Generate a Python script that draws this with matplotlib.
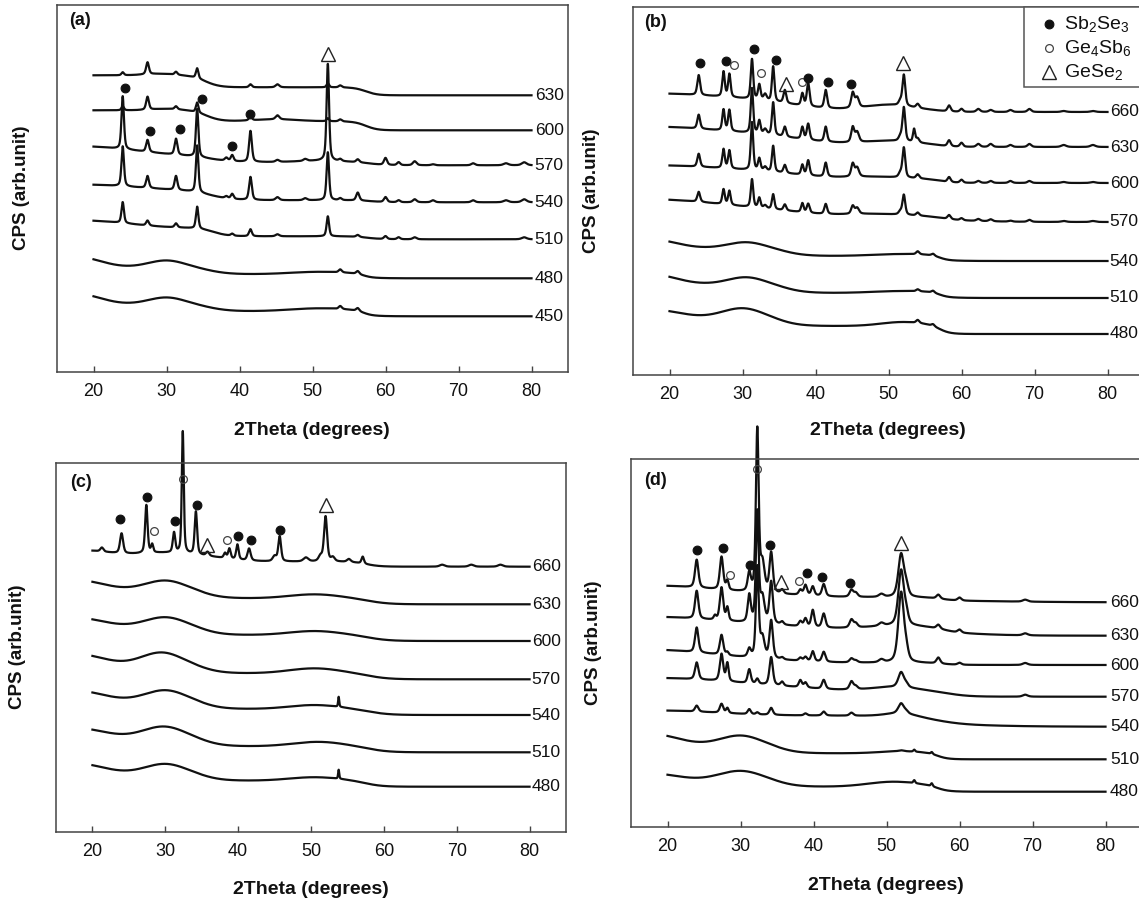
import numpy as np
import matplotlib
matplotlib.use("Agg")
import matplotlib.pyplot as plt
from matplotlib.patches import Rectangle

plt.rcParams['font.family'] = ['Liberation Sans', 'DejaVu Sans']
plt.rcParams['mathtext.default'] = 'regular'

W, H = 1139, 902

# ---------------- (a) ----------------
temps_a = [630, 600, 570, 540, 510, 480, 450]
level_a = [277, 242, 207, 170, 133, 94, 56]
steps_a = [[(57.3, 8, 0.8), (35.3, 12, 1.0)],
           [(57.3, 9, 0.8), (35.5, 11, 1.0)],
           [(58, 3, 1.0), (36, 5, 1.5), (26, 13, 4)],
           [(58, 2, 1.0), (36, 9, 1.5), (26, 8, 4)],
           [(57.5, 3, 1.0), (36.5, 8, 1.0), (25, 9, 3)],
           [(57, 4, 0.6), (36, 7, 1.5)],
           [(57, 5, 0.6), (36, 7, 1.5)]]
humps_a = [[(29, 1.5, 2)],
           [(30, 1.5, 2), (45, 2, 3)],
           [(51, 1.5, 3)],
           [],
           [],
           [(30, 7, 2.5), (18, 10, 3), (51, 2.5, 4)],
           [(30, 7, 2.5), (18, 10, 3), (51, 3, 4)]]
pos_a = [24.0, 27.4, 31.3, 34.2, 38.2, 39.0, 41.5, 45.2, 49.0, 52.1,
         53.8, 56.2, 60.0, 61.8, 64.0, 66.5, 72.0, 76.5, 79.0]
fwhm_a = [0.40, 0.45, 0.45, 0.40, 0.5, 0.45, 0.45, 0.6, 0.6, 0.40,
          0.5, 0.5, 0.5, 0.5, 0.6, 0.6, 0.6, 0.8, 0.8]
peaks_a = [[3, 12, 3, 10, 0, 0, 3, 3, 0, 4, 2, 0, 0, 0, 0, 0, 0, 0, 0],
           [4, 13, 3, 10, 0, 0, 4, 4, 0, 3, 2, 0, 0, 0, 0, 0, 0, 0, 0],
           [53, 12, 16, 48, 3, 6, 31, 2, 2, 97, 2, 3, 7, 3, 4, 1, 2, 2, 3],
           [40, 12, 14, 47, 2, 5, 23, 3, 2, 48, 2, 8, 5, 2, 3, 2, 2, 2, 3],
           [21, 5, 4, 22, 0, 2, 7, 2, 0, 20, 0, 2, 3, 2, 2, 0, 0, 0, 2],
           [0, 0, 0, 0, 0, 0, 0, 0, 0, 0, 3, 3, 0, 0, 0, 0, 0, 0, 0],
           [0, 0, 0, 0, 0, 0, 0, 0, 0, 0, 3, 3, 0, 0, 0, 0, 0, 0, 0]]
marks_a = [(24.25, 284, 'o'), (34.8, 273, 'o'), (41.5, 258, 'o'),
           (27.8, 241, 'o'), (31.8, 243, 'o'), (39.0, 226, 'o'),
           (52.1, 318, 't')]

# ---------------- (b) ----------------
temps_b = [660, 630, 600, 570, 540, 510, 480]
level_b = [263, 228, 192, 153, 114, 77, 41]
steps_b = [[(57, 2, 1), (37, 8, 2.5), (28, 10, 5)],
           [(57, 3, 1), (38, 7, 2.5), (28, 12, 5)],
           [(57, 4, 1), (38, 6, 2.5), (28, 9, 5)],
           [(57.5, 4, 1.2), (38, 6, 2.5), (27, 12, 4), (62, 2, 3)],
           [(57, 5, 0.6), (36, 8, 1.5)],
           [(57, 5, 0.6), (36, 9, 1.5)],
           [(57, 8, 0.7), (35.5, 8, 1.5)]]
humps_b = [[(50, 5, 3)],
           [(50, 3, 3)],
           [(48, 2, 4)],
           [(48, 2, 4)],
           [(30.5, 6, 2.5), (18, 8, 3), (52, 2, 4)],
           [(30.5, 7, 2.5), (18, 9, 3), (52, 2, 4)],
           [(30, 10, 2.8), (18, 8, 3.5), (52, 4, 3)]]
pos_b = [24.0, 27.4, 28.2, 31.3, 32.3, 33.1, 34.2, 35.8, 38.2, 39.0,
         41.4, 45.1, 45.7, 51.6, 52.1, 53.5, 54.0, 56.1, 58.3, 60.0,
         62.3, 64.0, 66.7, 69.3, 74.0, 78.0]
fwhm_b = [0.45, 0.4, 0.4, 0.4, 0.4, 0.5, 0.4, 0.45, 0.4, 0.45,
          0.45, 0.5, 0.6, 0.5, 0.45, 0.35, 0.5, 0.5, 0.5, 0.5,
          0.6, 0.6, 0.6, 0.6, 0.8, 0.8]
peaks_b = [[20, 25, 23, 40, 15, 6, 35, 13, 12, 23, 18, 15, 10, 4, 31, 0, 4, 0, 6, 3, 3, 2, 2, 3, 1, 1],
           [14, 21, 21, 45, 13, 5, 33, 10, 12, 16, 15, 15, 10, 4, 34, 13, 4, 0, 6, 4, 3, 3, 2, 3, 2, 2],
           [13, 19, 18, 48, 12, 4, 26, 8, 10, 15, 14, 13, 9, 4, 30, 0, 4, 0, 5, 3, 2, 2, 2, 2, 1, 1],
           [10, 15, 14, 28, 10, 3, 15, 6, 9, 9, 10, 8, 6, 3, 20, 0, 3, 0, 4, 2, 2, 2, 1, 2, 1, 1],
           [0, 0, 0, 0, 0, 0, 0, 0, 0, 0, 0, 0, 0, 0, 0, 0, 3, 2, 0, 0, 0, 0, 0, 0, 0, 0],
           [0, 0, 0, 0, 0, 0, 0, 0, 0, 0, 0, 0, 0, 0, 0, 0, 2, 2, 0, 0, 0, 0, 0, 0, 0, 0],
           [0, 0, 0, 0, 0, 0, 0, 0, 0, 0, 0, 0, 0, 0, 0, 0, 3, 2, 0, 0, 0, 0, 0, 0, 0, 0]]
marks_b = [(24.2, 312, 'o'), (27.8, 314, 'o'), (28.9, 310, 'c'),
           (31.6, 326, 'o'), (32.6, 302, 'c'), (34.6, 315, 'o'),
           (36.0, 291, 't'), (38.2, 293, 'c'), (39.0, 297, 'o'),
           (41.7, 293, 'o'), (44.9, 291, 'o'), (52.05, 312, 't')]

# ---------------- (c) ----------------
temps_c = [660, 630, 600, 570, 540, 510, 480]
level_c = [265, 227.4, 190.7, 152.4, 116.7, 79.4, 45]
steps_c = [[(57.5, 5, 1), (38, 7, 2), (22, 5, 1.5)],
           [(58, 6, 1.5), (35.5, 8, 1.5)],
           [(58, 6, 1.5), (35.5, 8, 1.5)],
           [(58, 6, 1.5), (35.5, 8, 1.5)],
           [(58, 6, 1.5), (35.5, 8, 1.5)],
           [(58, 6, 1.5), (35.5, 9, 1.5)],
           [(57.5, 6, 1.2), (35.5, 7, 1.5)]]
humps_c = [[(30, 2, 3)],
           [(30, 10, 2.8), (18, 10, 3.5), (50.5, 4, 3.5)],
           [(30, 10, 2.8), (18, 9, 3.5), (50.5, 4, 3.5)],
           [(29.5, 13, 2.8), (18, 11, 3.5), (50.5, 5, 3.5)],
           [(30, 11, 2.8), (18, 10, 3.5), (50.5, 4, 3.5)],
           [(29.8, 11, 2.8), (18, 9, 3.5), (51, 4.5, 3.5)],
           [(30, 10, 2.8), (18, 10, 3.5), (50.5, 3.5, 3.5)]]
pos_c = [21.3, 24.0, 27.4, 28.2, 31.2, 32.4, 34.2, 35.8, 38.2, 38.8,
         39.9, 41.5, 45.0, 45.7, 49.3, 51.3, 52.0, 53.0, 53.8, 55.2,
         57.1, 68.0, 72.0, 76.0]
fwhm_c = [0.5, 0.5, 0.4, 0.35, 0.4, 0.32, 0.4, 0.5, 0.4, 0.4,
          0.4, 0.5, 0.6, 0.45, 0.8, 0.6, 0.5, 0.6, 0.18, 0.6,
          0.4, 0.8, 0.8, 0.8]
peaks_c = [[4, 20, 48, 8, 20, 122, 43, 4, 5, 10, 15, 12, 5, 25, 4, 5, 45, 4, 0, 3, 7, 2, 2, 2],
           [0] * 24,
           [0] * 24,
           [0] * 24,
           [0] * 18 + [10] + [0] * 5,
           [0] * 24,
           [0] * 18 + [9] + [0] * 5]
marks_c = [(23.85, 313, 'o'), (27.5, 335, 'o'), (28.5, 301, 'c'),
           (31.3, 311, 'o'), (32.45, 353, 'c'), (34.4, 327, 'o'),
           (35.7, 287, 't'), (38.5, 292, 'c'), (40.0, 296, 'o'),
           (41.7, 292, 'o'), (45.7, 302, 'o'), (52.0, 327, 't')]

# ---------------- (d) ----------------
temps_d = [660, 630, 600, 570, 540, 510, 480]
level_d = [224.4, 191, 161.7, 130, 100, 67.4, 35]
steps_d = [[(57.5, 3, 1), (27, 11, 4), (40, 2, 2), (65, 2, 5)],
           [(58, 4, 1.0), (63, 3, 3), (27, 10, 4), (38, 3, 2)],
           [(57.5, 2, 1), (26, 12, 4), (38, 3, 3)],
           [(58.5, 6, 1.5), (30, 12, 5), (40, 2, 2)],
           [(57, 9, 2), (27, 6, 4), (65, 2, 4)],
           [(57, 6, 0.7), (35.5, 8, 1.5)],
           [(57, 5, 0.7), (35.5, 6, 1.5)]]
humps_d = [[],
           [(52, 3, 4)],
           [],
           [(51, 3.5, 3)],
           [(52, 3, 2)],
           [(30, 10, 2.8), (18, 11, 3.5), (52, 2, 3)],
           [(30, 10, 3), (18, 7, 3.5), (51, 5, 3.5)]]
pos_d = [24.0, 26.5, 27.4, 28.2, 31.2, 32.3, 33.0, 34.2, 35.7, 38.2,
         38.9, 39.9, 41.4, 45.2, 45.8, 49.3, 52.0, 52.7, 53.8, 56.2,
         57.1, 60.0, 69.0]
fwhm_d = [0.55, 0.4, 0.55, 0.4, 0.5, 0.45, 0.7, 0.55, 0.5, 0.5,
          0.5, 0.5, 0.55, 0.6, 0.6, 0.8, 0.9, 0.7, 0.3, 0.3,
          0.6, 0.6, 0.8]
peaks_d = [[28, 0, 33, 9, 18, 162, 28, 40, 4, 5, 10, 9, 12, 7, 4, 3, 43, 10, 0, 0, 4, 3, 2],
           [28, 4, 33, 13, 27, 110, 25, 42, 3, 5, 8, 17, 14, 8, 4, 3, 55, 10, 0, 0, 4, 3, 2],
           [25, 0, 20, 3, 8, 90, 20, 38, 2, 3, 4, 10, 10, 4, 2, 3, 70, 10, 0, 0, 6, 2, 2],
           [17, 0, 27, 18, 14, 5, 0, 28, 4, 7, 5, 0, 9, 8, 3, 0, 15, 3, 0, 0, 0, 0, 2],
           [6, 0, 9, 5, 5, 2, 0, 7, 0, 0, 2, 0, 4, 3, 0, 0, 10, 2, 0, 0, 0, 0, 0],
           [0] * 16 + [1, 0, 2, 2, 0, 0, 0],
           [0] * 18 + [3, 3, 0, 0, 0]]
marks_d = [(24.1, 277, 'o'), (27.6, 279, 'o'), (28.6, 252, 'c'),
           (31.3, 262, 'o'), (32.3, 358, 'c'), (34.1, 282, 'o'),
           (35.5, 245, 't'), (38.0, 246, 'c'), (39.1, 254, 'o'),
           (41.1, 250, 'o'), (45.0, 244, 'o'), (52.0, 284, 't')]

legend_names = ['Sb$_2$Se$_3$', 'Ge$_4$Sb$_6$', 'GeSe$_2$']

two_theta = np.linspace(20, 80, 6001)


def pattern(x, level, steps, humps, pos, fwhm, heights):
    y = np.full_like(x, float(level))
    for x0, a, s in steps:
        y += a / (1 + np.exp((x - x0) / s))
    for c, a, s in humps:
        y += a * np.exp(-0.5 * ((x - c) / s) ** 2)
    for c, f, a in zip(pos, fwhm, heights):
        if a:
            d = (x - c) / (f / 2)
            y += a * (0.5 / (1 + d ** 2) + 0.5 * np.exp(-np.log(2) * d ** 2))
    return y


mark_style = {
    'o': dict(marker='o', ms=6.3, mfc='#111111', mec='#111111', mew=0.8),
    'c': dict(marker='o', ms=5.6, mfc='none', mec='#444444', mew=0.9),
    't': dict(marker='^', ms=9.5, mfc='none', mec='#222222', mew=1.0),
}


def px_axes(x0, y0, x1, y1):
    return fig.add_axes([x0 / W, 1 - y1 / H, (x1 - x0) / W, (y1 - y0) / H])


fig = plt.figure(figsize=(W / 100, H / 100), dpi=100)

panels = [
    # box (px), data, label offset, panel tag, tag pos, xlabel pos, ylabel pos
    ((57, 5, 568, 372.3), temps_a, level_a, steps_a, humps_a, pos_a, fwhm_a, peaks_a, marks_a,
     0.45, '(a)', (69, 12), (312, 430), (22, 188)),
    ((633, 7, 1144, 375), temps_b, level_b, steps_b, humps_b, pos_b, fwhm_b, peaks_b, marks_b,
     0.3, '(b)', (644, 14), (888, 430), (592, 191)),
    ((56, 463, 566, 831.7), temps_c, level_c, steps_c, humps_c, pos_c, fwhm_c, peaks_c, marks_c,
     0.3, '(c)', (70, 474), (311, 890), (18, 647)),
    ((631, 459, 1142, 826.7), temps_d, level_d, steps_d, humps_d, pos_d, fwhm_d, peaks_d, marks_d,
     0.6, '(d)', (644, 472), (886, 885), (594, 643)),
]

for (box, temps, levels, steps, humps, pos, fwhm, peaks, marks,
     dx, tag, tag_xy, xl_xy, yl_xy) in panels:
    ax = px_axes(*box)
    hpx = box[3] - box[1]
    ax.set_xlim(15, 85)
    ax.set_ylim(0, hpx)
    for t, lv, st, hu, pk in zip(temps, levels, steps, humps, peaks):
        y = pattern(two_theta, lv, st, hu, pos, fwhm, pk)
        ax.plot(two_theta, y, color='#111111', lw=1.6, clip_on=False, zorder=2)
        ax.text(80 + dx, lv, str(t), fontsize=12.5, ha='left', va='center',
                color='#111111', clip_on=False)
    for mx, my, kind in marks:
        ax.plot([mx], [my], ls='none', clip_on=False, zorder=4, **mark_style[kind])

    ax.set_xticks(range(20, 81, 10))
    ax.set_yticks([])
    ax.tick_params(axis='x', direction='in', length=4, width=1.0, colors='#444444',
                   labelcolor='#111111', labelsize=13, pad=8)
    for sp in ax.spines.values():
        sp.set_color('#444444')
        sp.set_linewidth(1.1)

    fig.text(tag_xy[0] / W, 1 - tag_xy[1] / H, tag, fontsize=13, fontweight='bold',
             ha='left', va='top', color='#111111')
    fig.text(xl_xy[0] / W, 1 - xl_xy[1] / H, '2Theta (degrees)', fontsize=14,
             fontweight='bold', ha='center', va='center', color='#111111')
    fig.text(yl_xy[0] / W, 1 - yl_xy[1] / H, 'CPS (arb.unit)', fontsize=13.5,
             fontweight='bold', ha='center', va='center', rotation=90, color='#111111')

    if tag == '(b)':
        leg_ax = ax
        leg_box = box

# phase legend in panel (b)
x0, y0, x1, y1 = leg_box
fx = lambda px: (px - x0) / (x1 - x0)
fy = lambda py: (y1 - py) / (y1 - y0)
leg_ax.add_patch(Rectangle((fx(1024), fy(87)), fx(1150) - fx(1024), fy(7) - fy(87),
                           transform=leg_ax.transAxes, fill=True, facecolor='white',
                           edgecolor='#555555', lw=1.1, clip_on=False, zorder=5))
for (row_y, kind), name in zip([(24, 'o'), (48, 'c'), (72, 't')], legend_names):
    leg_ax.plot([fx(1049)], [fy(row_y)], ls='none', transform=leg_ax.transAxes,
                clip_on=False, zorder=6, **mark_style[kind])
    leg_ax.text(fx(1064), fy(row_y), name, transform=leg_ax.transAxes, fontsize=14,
                ha='left', va='center', color='#111111', zorder=6)

fig.savefig('out.png', dpi=100)
